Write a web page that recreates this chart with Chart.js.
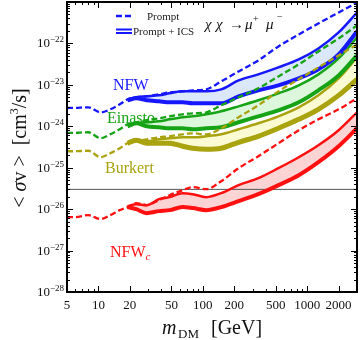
<!DOCTYPE html>
<html>
<head>
<meta charset="utf-8">
<script src="https://cdn.jsdelivr.net/npm/chart.js@4.4.1/dist/chart.umd.min.js"></script>
<style>
  body { margin: 0; background: #fff; }
</style>
</head>
<body>
<canvas id="graph" width="360" height="340"></canvas>
<script>
// dark matter mass [GeV]
const mass = [5, 6, 8, 10.5, 13, 16, 19, 23, 29, 38, 48, 64, 80, 108, 150, 220, 340, 530, 830, 1280, 2000, 3000];
const massIcs = [19, 23, 29, 38, 48, 64, 80, 108, 150, 220, 340, 530, 830, 1280, 2000, 3000];

// <sigma v> limits [cm^3/s]
const nfwPrompt = [2.76e-24, 2.79e-24, 2.87e-24, 2.17e-24, 2.57e-24, 3.39e-24, 4.47e-24, 5.0e-24, 5.28e-24, 5.9e-24, 6.59e-24, 6.97e-24, 7.37e-24, 7.79e-24, 1.21e-23, 2.11e-23, 3.89e-23, 8.47e-23, 1.65e-22, 3.03e-22, 5.58e-22, 9.7e-22];
const nfwIcsHigh = [4.47e-24, 5.0e-24, 5.28e-24, 5.58e-24, 6.24e-24, 6.97e-24, 6.97e-24, 6.97e-24, 7.79e-24, 1.28e-23, 1.79e-23, 2.64e-23, 4.11e-23, 7.58e-23, 1.84e-22, 5.58e-22];
const nfwIcsLow = [4.24e-24, 4.73e-24, 4.24e-24, 4.0e-24, 3.79e-24, 3.79e-24, 3.58e-24, 3.58e-24, 3.58e-24, 5.28e-24, 7.37e-24, 9.73e-24, 1.43e-23, 2.36e-23, 5.43e-23, 1.95e-22];

const einPrompt = [6.9e-25, 6.97e-25, 7.17e-25, 5.14e-25, 6.41e-25, 8.47e-25, 1.12e-24, 1.25e-24, 1.4e-24, 1.56e-24, 1.74e-24, 1.95e-24, 2.06e-24, 2.17e-24, 3.21e-24, 5.0e-24, 8.24e-24, 1.6e-23, 3.12e-23, 6.41e-23, 1.32e-22, 2.72e-22];
const einIcsHigh = [1.06e-24, 1.18e-24, 1.25e-24, 1.32e-24, 1.47e-24, 1.65e-24, 1.74e-24, 1.95e-24, 2.3e-24, 3.03e-24, 4.24e-24, 6.24e-24, 9.73e-24, 1.79e-23, 4.35e-23, 1.4e-22];
const einIcsLow = [1.0e-24, 1.18e-24, 1.0e-24, 9.46e-25, 8.95e-25, 8.95e-25, 8.47e-25, 8.95e-25, 9.46e-25, 1.25e-24, 1.74e-24, 2.43e-24, 3.79e-24, 7.37e-24, 1.69e-23, 5.14e-23];

const burPrompt = [2.5e-25, 2.5e-25, 2.57e-25, 1.79e-25, 2.24e-25, 2.95e-25, 3.89e-25, 4.35e-25, 4.86e-25, 5.43e-25, 5.74e-25, 6.41e-25, 6.78e-25, 6.41e-25, 8.95e-25, 1.65e-24, 3.21e-24, 6.97e-24, 1.36e-23, 2.64e-23, 5.14e-23, 9.46e-23];
const burIcsHigh = [4.11e-25, 4.86e-25, 4.35e-25, 4.86e-25, 5.14e-25, 5.43e-25, 5.43e-25, 5.74e-25, 6.41e-25, 8.47e-25, 1.18e-24, 1.74e-24, 2.87e-24, 5.58e-24, 1.43e-23, 4.6e-23];
const burIcsLow = [3.89e-25, 4.6e-25, 3.89e-25, 3.89e-25, 3.89e-25, 3.3e-25, 2.95e-25, 2.79e-25, 2.95e-25, 4.11e-25, 5.74e-25, 8.95e-25, 1.47e-24, 2.57e-24, 5.58e-24, 1.36e-23];

const nfwcPrompt = [6.41e-27, 6.41e-27, 7.17e-27, 5.74e-27, 7.17e-27, 9.46e-27, 1.12e-26, 1.4e-26, 1.25e-26, 1.65e-26, 2.17e-26, 2.87e-26, 3.39e-26, 3.03e-26, 4.73e-26, 9.73e-26, 1.89e-25, 3.89e-25, 8.01e-25, 1.47e-24, 2.57e-24, 4.73e-24];
const nfwcIcsHigh = [1.18e-26, 1.32e-26, 1.25e-26, 1.74e-26, 1.95e-26, 2.43e-26, 2.3e-26, 1.95e-26, 2.43e-26, 3.79e-26, 5.58e-26, 9.73e-26, 1.79e-25, 3.48e-25, 8.01e-25, 2.17e-24];
const nfwcIcsLow = [1.12e-26, 1.0e-26, 8.01e-27, 8.95e-27, 9.46e-27, 1.12e-26, 1.06e-26, 9.46e-27, 1.12e-26, 1.56e-26, 2.3e-26, 3.79e-26, 6.59e-26, 1.36e-25, 3.3e-25, 8.95e-25];

// thermal relic cross section
const thermalMass = [5, 3000];
const thermal = [3e-26, 3e-26];

// axis ticks
const xTickLabels = [5, 10, 20, 50, 100, 200, 500, 1000, 2000];
const xMinorTicks = [6, 7, 8, 9, 30, 40, 60, 70, 80, 90, 300, 400, 600, 700, 800, 900];
const yTickExp = [-28, -27, -26, -25, -24, -23, -22, -21];
const yLabelExp = [-28, -27, -26, -25, -24, -23, -22];

const F = '"Liberation Serif", "Times New Roman", serif';
const BLUE = "#1717ff", GREEN = "#16a316", OLIVE = "#a8a30f", RED = "#ff1010";

function pts(xs, ys) {
    return xs.map((m, i) => ({x: m, y: ys[i]}));
}

function profile(prompt, high, low, color, light, lowWidth) {
    return [
        {data: pts(massIcs, high), borderColor: color, borderWidth: 2.5, fill: false, order: 3},
        {data: pts(massIcs, low), borderColor: color, borderWidth: lowWidth, fill: "-1", backgroundColor: light, order: 3},
        {data: pts(mass, prompt), borderColor: color, borderWidth: 2.3, borderDash: [6, 3], fill: false, order: 1}
    ];
}

function runs(ctx, parts, x, y) {
    let cx = x;
    parts.forEach(([t, font, dy]) => {
        ctx.font = font;
        ctx.fillText(t, cx, y + (dy || 0));
        cx += ctx.measureText(t).width;
    });
    return cx;
}

function runsWidth(ctx, parts) {
    let w = 0;
    parts.forEach(([t, font]) => { ctx.font = font; w += ctx.measureText(t).width; });
    return w;
}

const decor = {
    id: "decor",
    afterDraw(chart) {
        const ctx = chart.ctx;
        const {left, right, top, bottom} = chart.chartArea;
        const xs = chart.scales.x, ys = chart.scales.y;
        ctx.save();

        // inner ticks
        ctx.strokeStyle = "#000";
        ctx.lineWidth = 1;
        ctx.beginPath();
        xTickLabels.forEach(v => {
            const px = Math.round(xs.getPixelForValue(v)) + 0.5;
            ctx.moveTo(px, bottom); ctx.lineTo(px, bottom - 6);
            ctx.moveTo(px, top); ctx.lineTo(px, top + 6);
        });
        xMinorTicks.forEach(v => {
            const px = Math.round(xs.getPixelForValue(v)) + 0.5;
            ctx.moveTo(px, bottom); ctx.lineTo(px, bottom - 3);
            ctx.moveTo(px, top); ctx.lineTo(px, top + 3);
        });
        yTickExp.forEach(e => {
            const py = Math.round(ys.getPixelForValue(Math.pow(10, e))) + 0.5;
            ctx.moveTo(left, py); ctx.lineTo(left + 6, py);
            ctx.moveTo(right, py); ctx.lineTo(right - 6, py);
            if (e < -21) {
                for (let k = 2; k <= 9; k++) {
                    const q = Math.round(ys.getPixelForValue(k * Math.pow(10, e))) + 0.5;
                    ctx.moveTo(left, q); ctx.lineTo(left + 3, q);
                    ctx.moveTo(right, q); ctx.lineTo(right - 3, q);
                }
            }
        });
        ctx.stroke();

        // frame
        ctx.lineWidth = 2;
        ctx.strokeRect(left, top, right - left, bottom - top);

        // tick labels
        ctx.fillStyle = "#111";
        ctx.textBaseline = "alphabetic";
        ctx.textAlign = "center";
        ctx.font = "13px " + F;
        xTickLabels.forEach(v => {
            ctx.fillText(String(v), xs.getPixelForValue(v), 309);
        });
        ctx.textAlign = "right";
        yLabelExp.forEach(e => {
            const py = ys.getPixelForValue(Math.pow(10, e));
            const sup = "\u2212" + Math.abs(e);
            ctx.font = "9px " + F;
            const sw = ctx.measureText(sup).width;
            ctx.fillText(sup, left - 3, py - 1);
            ctx.font = "13px " + F;
            ctx.fillText("10", left - 3 - sw, py + 4);
        });
        ctx.textAlign = "left";

        // axis titles
        ctx.font = "italic 20px " + F;
        ctx.fillText("m", 162, 334);
        ctx.font = "13px " + F;
        ctx.fillText("DM", 178, 338);
        ctx.font = "20px " + F;
        ctx.fillText("[GeV]", 211, 334);

        const yTitle = [
            ["< ", "20px " + F], ["\u03c3", "italic 20px " + F], ["v", "20px " + F],
            [" >  [cm", "20px " + F], ["3", "12px " + F, -8], ["/s]", "20px " + F]
        ];
        ctx.save();
        ctx.translate(26, 148);
        ctx.rotate(-Math.PI / 2);
        runs(ctx, yTitle, -runsWidth(ctx, yTitle) / 2, 0);
        ctx.restore();

        // legend
        ctx.strokeStyle = BLUE;
        ctx.lineWidth = 2.5;
        ctx.setLineDash([6, 3]);
        ctx.beginPath(); ctx.moveTo(116, 16); ctx.lineTo(132, 16); ctx.stroke();
        ctx.setLineDash([]);
        ctx.lineWidth = 2;
        ctx.beginPath();
        ctx.moveTo(116, 29.5); ctx.lineTo(132, 29.5);
        ctx.moveTo(116, 33); ctx.lineTo(132, 33);
        ctx.stroke();
        ctx.fillStyle = "#222";
        ctx.font = "11px " + F;
        ctx.fillText("Prompt", 147, 20);
        ctx.fillText("Prompt + ICS", 133, 35);

        // channel
        ctx.fillStyle = "#111";
        ctx.font = "italic 15px " + F;
        ctx.fillText("\u03c7", 205, 29);
        ctx.fillText("\u03c7", 216, 29);
        ctx.font = "15px " + F;
        ctx.fillText("\u2192", 229, 29);
        ctx.font = "italic 15px " + F;
        ctx.fillText("\u03bc", 245, 29);
        ctx.fillText("\u03bc", 266, 29);
        ctx.font = "10px " + F;
        ctx.fillText("+", 253, 22);
        ctx.fillText("\u2212", 277, 20);

        // profile names
        ctx.font = "16px " + F;
        ctx.fillStyle = BLUE;
        ctx.fillText("NFW", 113, 90);
        ctx.fillStyle = GREEN;
        ctx.fillText("Einasto", 107, 123);
        ctx.fillStyle = OLIVE;
        ctx.fillText("Burkert", 105, 173);
        ctx.fillStyle = RED;
        runs(ctx, [["NFW", "16px " + F], ["c", "italic 11px " + F, 3]], 110, 257);

        ctx.restore();
    }
};

const datasets = [
    {data: pts(thermalMass, thermal), borderColor: "#555", borderWidth: 1, fill: false, order: 5},
    ...profile(nfwPrompt, nfwIcsHigh, nfwIcsLow, BLUE, "#dbe8fb", 4),
    ...profile(einPrompt, einIcsHigh, einIcsLow, GREEN, "#ddf7dd", 4),
    ...profile(burPrompt, burIcsHigh, burIcsLow, OLIVE, "#fbfbd3", 5),
    ...profile(nfwcPrompt, nfwcIcsHigh, nfwcIcsLow, RED, "#fcd4d4", 4)
];

var graph = document.getElementById("graph").getContext("2d");

var chart = new Chart(graph, {
    type: "line",
    data: {datasets: datasets},
    options: {
        responsive: false,
        animation: false,
        devicePixelRatio: 1,
        layout: {padding: {top: 2, right: 3, left: 0, bottom: 0}},
        elements: {
            point: {radius: 0},
            line: {cubicInterpolationMode: "monotone", borderCapStyle: "butt"}
        },
        scales: {
            x: {
                type: "logarithmic", min: 5, max: 3000,
                ticks: {display: false}, grid: {display: false}, border: {display: false},
                afterFit: s => { s.height = 48; }
            },
            y: {
                type: "logarithmic", min: 1e-28, max: 1e-21,
                ticks: {display: false}, grid: {display: false}, border: {display: false},
                afterFit: s => { s.width = 67; }
            }
        },
        plugins: {
            legend: {display: false},
            tooltip: {enabled: false},
            filler: {drawTime: "beforeDatasetsDraw"}
        }
    },
    plugins: [decor]
});
</script>
</body>
</html>
